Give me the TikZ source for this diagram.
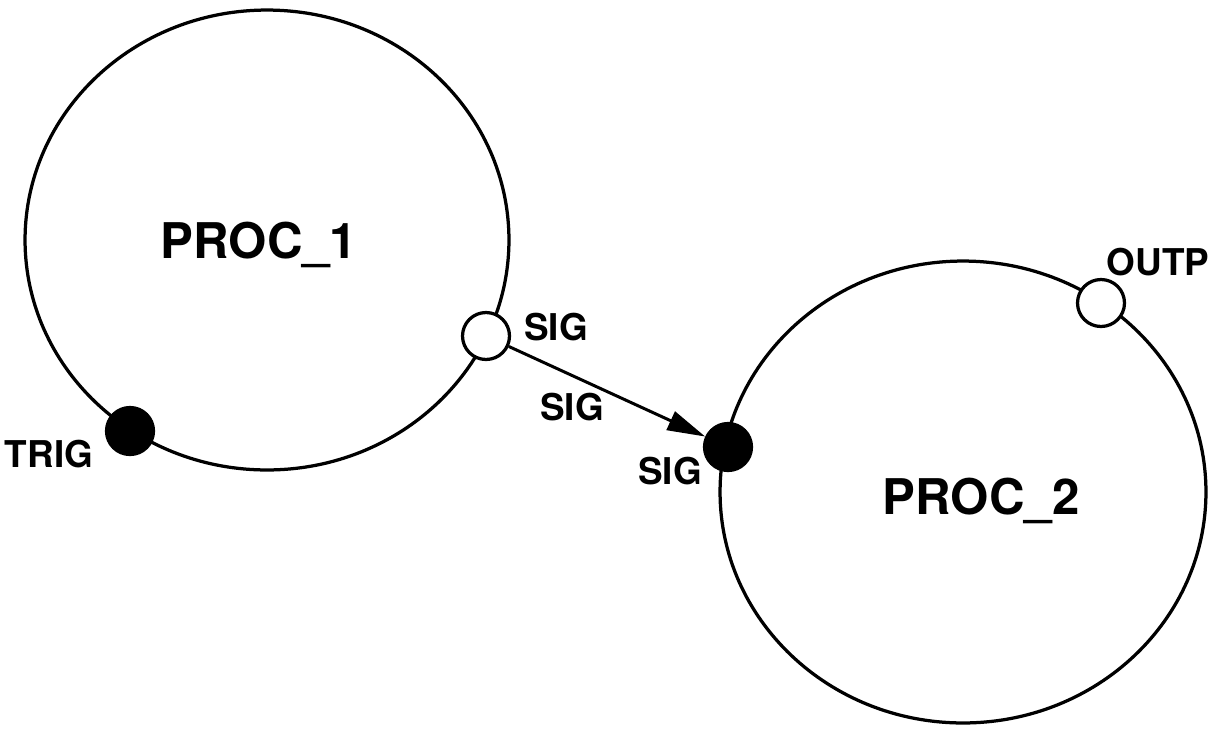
\documentclass[tikz,border=0pt]{standalone}
\usepackage{fontspec}
\setmainfont{TeX Gyre Heros}
\usetikzlibrary{shapes.geometric,arrows.meta}

\tikzset{
  proc/.style={draw,ellipse,line width=0.065cm,inner sep=0pt},
  portopen/.style={draw,circle,fill=white,line width=0.065cm,minimum size=0.94cm,inner sep=0pt},
  portfull/.style={portopen,fill=black},
  proctext/.style={font=\fontsize{28}{30}\selectfont\bfseries,anchor=base,inner sep=0pt},
  porttext/.style={font=\fontsize{21}{24}\selectfont\bfseries,anchor=base,inner sep=0pt},
  flow/.style={line width=0.06cm,-{Triangle[length=0.76cm,width=0.4cm]}}
}

\begin{document}
\begin{tikzpicture}[x=0.02cm,y=-0.02cm]
  \useasboundingbox (0,0) rectangle (1223,728);

  % processes
  \node[proc,minimum width=9.68cm,minimum height=9.2cm] (proc1) at (267,240) {};
  \node[proc,minimum width=9.72cm,minimum height=9.24cm] (proc2) at (963,492) {};
  \node[proctext] (proc1name) at (259,258) {PROC\_1};
  \node[proctext] (proc2name) at (981,514) {PROC\_2};

  % ports
  \node[portopen] (sigout) at (486,336) {};
  \node[portfull] (trig) at (130,431) {};
  \node[portfull] (sigin) at (728,447) {};
  \node[portopen] (outp) at (1101,303) {};

  \node[porttext] (sigoutname) at (556,340) {SIG};
  \node[porttext] (trigname) at (49,467) {TRIG};
  \node[porttext] (siginname) at (670,484) {SIG};
  \node[porttext] (outpname) at (1158,275) {OUTP};

  % signal
  \draw[flow] (sigout) -- (sigin);
  \node[porttext] (flowname) at (572,420) {SIG};
\end{tikzpicture}
\end{document}
